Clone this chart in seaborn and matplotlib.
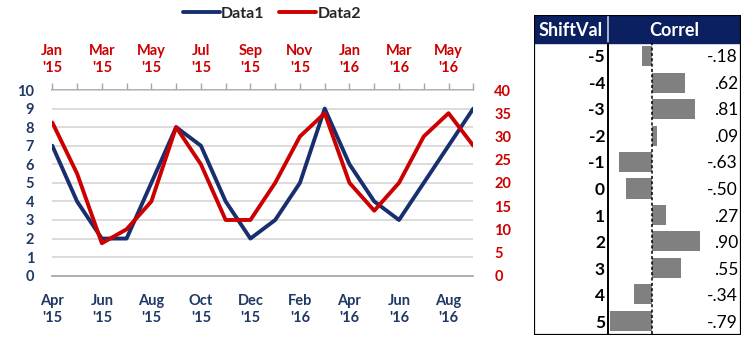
import matplotlib
matplotlib.use("Agg")
import matplotlib.pyplot as plt
from matplotlib.lines import Line2D
from matplotlib.patches import Rectangle
import seaborn as sns
import pandas as pd

# ---------------- data ----------------
data1_months = ["Apr\n'15", "May\n'15", "Jun\n'15", "Jul\n'15", "Aug\n'15", "Sep\n'15",
                "Oct\n'15", "Nov\n'15", "Dec\n'15", "Jan\n'16", "Feb\n'16", "Mar\n'16",
                "Apr\n'16", "May\n'16", "Jun\n'16", "Jul\n'16", "Aug\n'16", "Sep\n'16"]
data2_months = ["Jan\n'15", "Feb\n'15", "Mar\n'15", "Apr\n'15", "May\n'15", "Jun\n'15",
                "Jul\n'15", "Aug\n'15", "Sep\n'15", "Oct\n'15", "Nov\n'15", "Dec\n'15",
                "Jan\n'16", "Feb\n'16", "Mar\n'16", "Apr\n'16", "May\n'16", "Jun\n'16"]
data1 = [7, 4, 2, 2, 5, 8, 7, 4, 2, 3, 5, 9, 6, 4, 3, 5, 7, 9]
data2 = [33, 22, 7, 10, 16, 32, 24, 12, 12, 20, 30, 35, 20, 14, 20, 30, 35, 28]

shift_vals = [-5, -4, -3, -2, -1, 0, 1, 2, 3, 4, 5]
correl = [-0.18, 0.62, 0.81, 0.09, -0.63, -0.50, 0.27, 0.90, 0.55, -0.34, -0.79]

# ---------------- style ----------------
sns.set_theme(style="white")
plt.rcParams["font.family"] = ["Lato", "DejaVu Sans"]

NAVY = "#172F6E"
NAVY_TXT = "#1F3864"
RED = "#CC0000"
GRID = "#D9D9D9"
HDR = "#0B2060"

W, H = 743, 339
fig = plt.figure(figsize=(W / 100, H / 100), dpi=100)


def px_rect(x0, y0, x1, y1):
    return [x0 / W, 1 - y1 / H, (x1 - x0) / W, (y1 - y0) / H]


# ---------------- line chart ----------------
ax = fig.add_axes(px_rect(52.3, 90, 473.3, 275.7))
ax2 = ax.twinx()

df = pd.DataFrame({"idx": range(len(data1)), "Data1": data1, "Data2": data2})
sns.lineplot(data=df, x="idx", y="Data1", ax=ax, color=NAVY, lw=2.8, zorder=3)
sns.lineplot(data=df, x="idx", y="Data2", ax=ax2, color=RED, lw=2.8, zorder=4)

n = len(data1)
ax.set_xlim(0, n - 1)
ax.set_ylim(0, 10)
ax2.set_ylim(0, 40)
ax.set_xlabel("")
ax.set_ylabel("")
ax2.set_ylabel("")

ax.set_yticks(range(0, 11))
ax.yaxis.grid(True, color=GRID, lw=1.3)
ax.set_axisbelow(True)
ax2.set_yticks(range(0, 41, 5))
ax2.grid(False)

ax.tick_params(axis="y", length=0, pad=13, labelsize=10.5, labelcolor=NAVY_TXT)
for t in ax.get_yticklabels():
    t.set_fontweight("bold")
ax2.tick_params(axis="y", length=0, pad=15, labelsize=10.5, labelcolor=RED)
for t in ax2.get_yticklabels():
    t.set_fontweight("bold")

ax.set_xticks(range(n))
ax.set_xticklabels([m if i % 2 == 0 else "" for i, m in enumerate(data1_months)],
                   fontweight="bold", color=NAVY_TXT, fontsize=10.5, linespacing=1.25)
ax.tick_params(axis="x", direction="out", length=5, width=1, color="#A6A6A6", pad=8)

for a in (ax, ax2):
    for s in ("left", "right", "top", "bottom"):
        a.spines[s].set_visible(False)
ax.spines["bottom"].set_visible(True)
ax.spines["bottom"].set_color("#A6A6A6")

sec = ax.secondary_xaxis("top")
sec.set_xticks(range(n))
sec.set_xticklabels([m if i % 2 == 0 else "" for i, m in enumerate(data2_months)],
                    fontweight="bold", color=RED, fontsize=10.5, linespacing=1.25)
sec.tick_params(axis="x", direction="out", length=5, width=1, color="#A6A6A6", pad=6)
sec.spines["top"].set_color("#A6A6A6")

handles = [Line2D([], [], color=NAVY, lw=2.8), Line2D([], [], color=RED, lw=2.8)]
fig.legend(handles, ["Data1", "Data2"], loc="center", bbox_to_anchor=(272 / W, 1 - 14 / H),
           ncol=2, frameon=False, handlelength=2.3, handletextpad=0.1, columnspacing=0.9,
           prop={"weight": "bold", "size": 11.5})

# ---------------- correlation table ----------------
tx0, ty0, tx1, ty1 = 534, 15, 741, 335
hdr_bot = 43
col_x = 607.5
zero_x = 652

frame = fig.add_axes(px_rect(tx0, ty0, tx1, ty1))
frame.set_xlim(tx0, tx1)
frame.set_ylim(ty1, ty0)
frame.axis("off")
frame.add_patch(Rectangle((tx0, ty0), tx1 - tx0, hdr_bot - ty0, color=HDR, zorder=1))
frame.plot([col_x, col_x], [ty0, hdr_bot], color="#C9CED8", lw=1.2, zorder=2)
frame.plot([col_x, col_x], [hdr_bot, ty1], color="black", lw=1.4, zorder=2)
frame.add_patch(Rectangle((tx0, ty0), tx1 - tx0, ty1 - ty0, fill=False, ec="black", lw=1.6, zorder=5))
frame.text((tx0 + col_x) / 2, (ty0 + hdr_bot) / 2 + 1, "ShiftVal", color="white", fontweight="bold",
           fontsize=13, ha="center", va="center")
frame.text((col_x + tx1) / 2, (ty0 + hdr_bot) / 2 + 1, "Correl", color="white", fontweight="bold",
           fontsize=13, ha="center", va="center")

scale = 53.0  # px per unit correlation
bax = fig.add_axes(px_rect(col_x + 1, hdr_bot, tx1 - 1, ty1 - 1))
bdf = pd.DataFrame({"shift": [str(s) for s in shift_vals], "correl": correl})
sns.barplot(data=bdf, x="correl", y="shift", orient="h", color="#808080", width=0.76,
            saturation=1, ax=bax, edgecolor="none")
left_px = col_x + 1
right_px = tx1 - 1
bax.set_xlim(-(zero_x - left_px) / scale, (right_px - zero_x) / scale)
bax.set_ylim(len(shift_vals) - 0.5, -0.5)
bax.axis("off")
bax.axvline(0, color="black", lw=1.1, ls=(0, (2, 1.5)), zorder=5)

row_h = (ty1 - hdr_bot) / len(shift_vals)
for i, (s, c) in enumerate(zip(shift_vals, correl)):
    yc = hdr_bot + (i + 0.5) * row_h + 1
    frame.text(605, yc, str(s), ha="right", va="center", fontweight="bold", fontsize=12.5,
               color="black")
    lab = f"{c:.2f}".replace("0.", ".")
    frame.text(738, yc, lab, ha="right", va="center", fontsize=12.5, color="black")

fig.savefig("out.png", dpi=100)
